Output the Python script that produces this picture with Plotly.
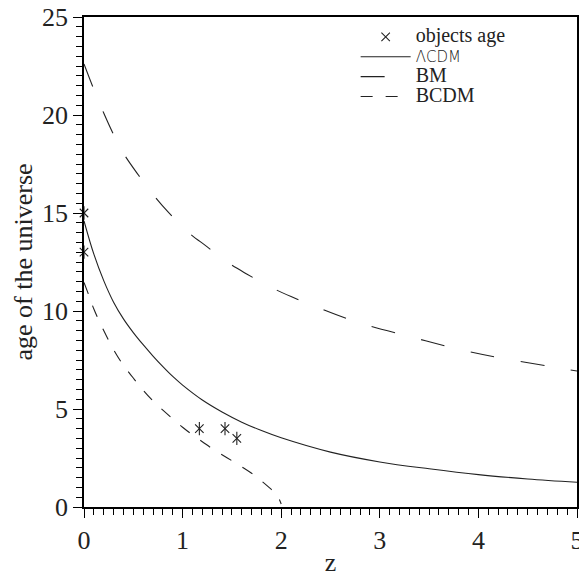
import plotly.graph_objects as go

# ---- data ----
star_z = [0.0, 0.0, 1.17, 1.43, 1.55]
star_age = [15.0, 13.0, 4.0, 4.0, 3.5]

lcdm_z = [0, 0.1, 0.2, 0.3, 0.4, 0.5, 0.6, 0.7, 0.8, 0.9, 1.0, 1.2, 1.4, 1.6, 1.8, 2.0,
          2.5, 3.0, 3.5, 4.0, 4.5, 5.0]
lcdm_age = [14.6, 12.9, 11.55, 10.45, 9.6, 8.9, 8.28, 7.7, 7.16, 6.66, 6.22, 5.46, 4.85,
            4.33, 3.9, 3.53, 2.8, 2.3, 1.95, 1.65, 1.43, 1.26]

bm_z = [0, 0.1, 0.2, 0.3, 0.4, 0.55, 0.7, 0.85, 1.05, 1.25, 1.45, 1.65, 1.9, 2.1, 2.4,
        2.8, 3.3, 3.8, 4.25, 4.75, 5.0]
bm_age = [22.6, 21.3, 20.1, 19.0, 18.05, 16.95, 15.95, 15.07, 14.05, 13.27, 12.5, 11.89,
          11.2, 10.74, 10.12, 9.38, 8.7, 8.05, 7.58, 7.15, 6.94]

bcdm_z = [0, 0.05, 0.1, 0.2, 0.3, 0.4, 0.5, 0.6, 0.7, 0.8, 0.9, 1.0, 1.1, 1.2, 1.3, 1.4,
          1.5, 1.6, 1.7, 1.8, 1.9, 1.95, 2.0]
bcdm_age = [11.46, 10.79, 10.1, 9.0, 8.03, 7.23, 6.58, 5.96, 5.41, 4.94, 4.5, 4.07, 3.68,
            3.33, 2.98, 2.67, 2.36, 2.05, 1.72, 1.33, 0.9, 0.68, 0.15]

x_ticks = [0, 1, 2, 3, 4, 5]
y_ticks = [0, 5, 10, 15, 20, 25]

INK = "#222222"
SERIF = "Liberation Serif, Times New Roman, serif"


def legend_label(text, family=SERIF, size=20, extra=""):
    return f'<span style="font-family:{family};font-size:{size}px;{extra}">{text}</span>'


fig = go.Figure()

fig.add_trace(go.Scatter(
    x=star_z, y=star_age, mode="markers", name=legend_label("objects age"),
    marker=dict(symbol="x-thin-open", size=8.5, line=dict(width=1.1, color=INK), color=INK),
    cliponaxis=False,
))
fig.add_trace(go.Scatter(
    x=star_z, y=star_age, mode="markers", showlegend=False, hoverinfo="skip",
    marker=dict(symbol="line-ns-open", size=9.5, line=dict(width=1.1, color=INK), color=INK),
    cliponaxis=False,
))
fig.add_trace(go.Scatter(
    x=lcdm_z, y=lcdm_age, mode="lines", line_shape="spline",
    name=legend_label("ΛCDM", family="DejaVu Sans", size=15, extra="font-weight:300"),
    line=dict(color=INK, width=1.1),
))
fig.add_trace(go.Scatter(
    x=bm_z, y=bm_age, mode="lines", line_shape="spline", name=legend_label("BM"),
    line=dict(color=INK, width=1.1, dash="24px,27px"),
))
fig.add_trace(go.Scatter(
    x=bcdm_z, y=bcdm_age, mode="lines", line_shape="spline", name=legend_label("BCDM"),
    line=dict(color=INK, width=1.1, dash="12px,13px"),
))

axis_common = dict(
    showgrid=False, zeroline=False, showline=True, linecolor="black", linewidth=1.5,
    mirror=True, ticks="outside", ticklen=9, tickwidth=1.4, tickcolor="black",
    tickfont=dict(family=SERIF, size=26, color="#222"), automargin=False,
    ticklabeloverflow="allow",
)

fig.update_xaxes(
    range=[0, 5], tickvals=x_ticks, ticktext=[str(v) for v in x_ticks],
    minor=dict(dtick=0.1, ticklen=6, tickwidth=1.2, ticks="outside", tickcolor="black"),
    title=dict(text="z", font=dict(family=SERIF, size=26, color="#222"), standoff=2),
    **axis_common,
)
fig.update_yaxes(
    range=[0, 25], tickvals=y_ticks, ticktext=[str(v) for v in y_ticks],
    minor=dict(dtick=0.5, ticklen=6, tickwidth=1.2, ticks="outside", tickcolor="black"),
    title=dict(text="age of the universe", font=dict(family=SERIF, size=26, color="#222"), standoff=2),
    **axis_common,
)

# page body adds an 8px offset, so the figure is sized to fit the 587x577 window
fig.update_layout(
    width=579, height=569,
    margin=dict(l=76, r=10, t=9, b=70),
    paper_bgcolor="white", plot_bgcolor="white",
    legend=dict(
        x=0.551, y=0.99, xanchor="left", yanchor="top",
        bgcolor="rgba(0,0,0,0)", borderwidth=0,
        font=dict(family=SERIF, size=13, color="#222"),
        tracegroupgap=0, itemwidth=50,
    ),
)

fig.write_html("out.html")
